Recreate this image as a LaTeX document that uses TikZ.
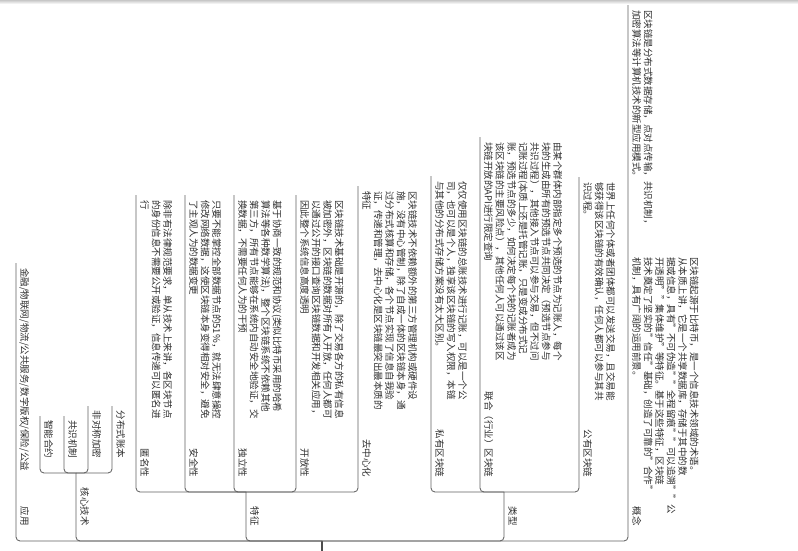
\documentclass[tikz,border=0pt]{standalone}
\usepackage{fontspec}
\setmainfont{Noto Sans CJK SC}
\newcommand\blk[1]{\begin{tabular}{@{}l@{}}#1\end{tabular}}
\begin{document}
\begin{tikzpicture}[x=1pt,y=-1pt,
  conn/.style={draw=black!62, line width=0.85pt, rounded corners=4pt},
  rootline/.style={draw=black!70, line width=1.3pt},
  txt/.style={rotate=-90, inner sep=0pt, text=black!82, font=\fontsize{9.5}{11.5}\selectfont},
  desc/.style={txt, anchor=north west},
  lbl/.style={txt, anchor=north east}]
\useasboundingbox (0,0) rectangle (798,550);
\fill[white] (0,0) rectangle (798,550);
\shade[top color=black!22, bottom color=white] (0,0) rectangle (798,4);

% ---------- connector coordinates ----------
\coordinate (R) at (322,541);
\coordinate (Rb) at (322,552);
\coordinate (c1) at (628,5);
\coordinate (c2) at (504,492);
\coordinate (c3) at (246,492);
\coordinate (c4) at (76,473);
\coordinate (c5) at (16,263);
\coordinate (t1) at (579,177);
\coordinate (t2) at (480,137);
\coordinate (t3) at (431,176);
\coordinate (f1) at (358,186);
\coordinate (f2) at (296,195);
\coordinate (f3) at (234,195);
\coordinate (f4) at (185,195);
\coordinate (f5) at (136,195);
\coordinate (k1) at (112,406);
\coordinate (k2) at (88,406);
\coordinate (k3) at (64,416);
\coordinate (k4) at (40,416);

\draw[rootline] (R) -- (Rb);
\foreach \c in {c1,c2,c3,c4,c5} \draw[conn] (\c) |- (R);
\foreach \c in {t1,t2,t3} \draw[conn] (\c) |- (c2);
\foreach \c in {f1,f2,f3,f4,f5} \draw[conn] (\c) |- (c3);
\foreach \c in {k1,k2,k3,k4} \draw[conn] (\c) |- (c4);

% ---------- 概念 ----------
\node[lbl] (gn) at (641.45,526) {\blk{概念}};
\node[desc] (gn1) at (652.95,10) {\blk{区块链是分布式数据存储，点对点传输，共识机制，\\加密算法等计算机技术的新型应用模式。}};
\node[desc] (gn2) at (698.95,257) {\blk{区块链起源于比特币，是一个信息技术领域的术语。\\从本质上讲，它是一个共享数据库，存储于其中的数\\据或信息，具有"不可伪造""全程留痕""可以追溯""公\\开透明""集体维护"等特征。基于这些特征，区块链\\技术奠定了坚实的"信任"基础，创造了可靠的"合作"\\机制，具有广阔的运用前景。}};

% ---------- 类型 ----------
\node[lbl] (lx) at (517.45,526) {\blk{类型}};
\node[lbl] (gy) at (592.45,477.5) {\blk{公有区块链}};
\node[desc] (gyd) at (615.45,182) {\blk{世界上任何个体或者团体都可以发送交易，且交易能\\够获得该区块链的有效确认，任何人都可以参与其共\\识过程。}};
\node[lbl] (lh) at (493.45,477.5) {\blk{联合（行业）区块链}};
\node[desc] (lhd) at (562.45,142) {\blk{由某个群体内部指定多个预选的节点为记账人，每个\\块的生成由所有的预选节点共同决定（预选节点参与\\共识过程），其他接入节点可以参与交易，但不过问\\记账过程(本质上还是托管记账，只是变成分布式记\\账，预选节点的多少，如何决定每个块的记账者成为\\该区块链的主要风险点），其他任何人可以通过该区\\块链开放的API进行限定查询}};
\node[lbl] (sy) at (444.45,477.5) {\blk{私有区块链}};
\node[desc] (syd) at (467.45,181) {\blk{仅仅使用区块链的总账技术进行记账，可以是一个公\\司，也可以是个人，独享该区块链的写入权限，本链\\与其他的分布式存储方案没有太大区别。}};

% ---------- 特征 ----------
\node[lbl] (tz) at (259.45,526) {\blk{特征}};
\node[lbl] (qz) at (371.45,477.5) {\blk{去中心化}};
\node[desc] (qzd) at (417.45,191) {\blk{区块链技术不依赖额外的第三方管理机构或硬件设\\施，没有中心管制，除了自成一体的区块链本身，通\\过分布式核算和存储，各个节点实现了信息自我验\\证，传递和管理，去中心化是区块链最突出最本质的\\特征}};
\node[lbl] (kf) at (309.45,477.5) {\blk{开放性}};
\node[desc] (kfd) at (343.95,200) {\blk{区块链技术基础是开源的，除了交易各方的私有信息\\被加密外，区块链的数据对所有人开放，任何人都可\\以通过公开的接口查询区块链数据和开发相关应用，\\因此整个系统信息高度透明}};
\node[lbl] (dl) at (247.45,477.5) {\blk{独立性}};
\node[desc] (dld) at (281.95,200) {\blk{基于协商一致的规范和协议(类似比特币采用的哈希\\算法等各种数学算法)，整个区块链系统不依赖其他\\第三方，所有节点能够在系统内自动安全地验证，交\\换数据，不需要任何人为的干预}};
\node[lbl] (aq) at (198.45,477.5) {\blk{安全性}};
\node[desc] (aqd) at (221.45,200) {\blk{只要不能掌控全部数据节点的51\%，就无法肆意操控\\修改网络数据，这使区块链本身变得相对安全，避免\\了主观人为的数据变更}};
\node[lbl] (nm) at (149.45,477.5) {\blk{匿名性}};
\node[desc] (nmd) at (172.45,200) {\blk{除非有法律规范要求，单从技术上来讲，各区块节点\\的身份信息不需要公开或验证，信息传递可以匿名进\\行}};

% ---------- 核心技术 ----------
\node[lbl] (hx) at (89.45,526) {\blk{核心技术}};
\node[lbl] (fb) at (125.45,458.5) {\blk{分布式账本}};
\node[lbl] (fd) at (101.45,458.5) {\blk{非对称加密}};
\node[lbl] (gs) at (77.45,458.5) {\blk{共识机制}};
\node[lbl] (zn) at (53.45,458.5) {\blk{智能合约}};

% ---------- 应用 ----------
\node[lbl] (yy) at (29.45,526) {\blk{应用}};
\node[desc] (yyd) at (29.45,268) {\blk{金融/物联网/物流/公共服务/数字版权/保险/公益}};
\end{tikzpicture}
\end{document}
